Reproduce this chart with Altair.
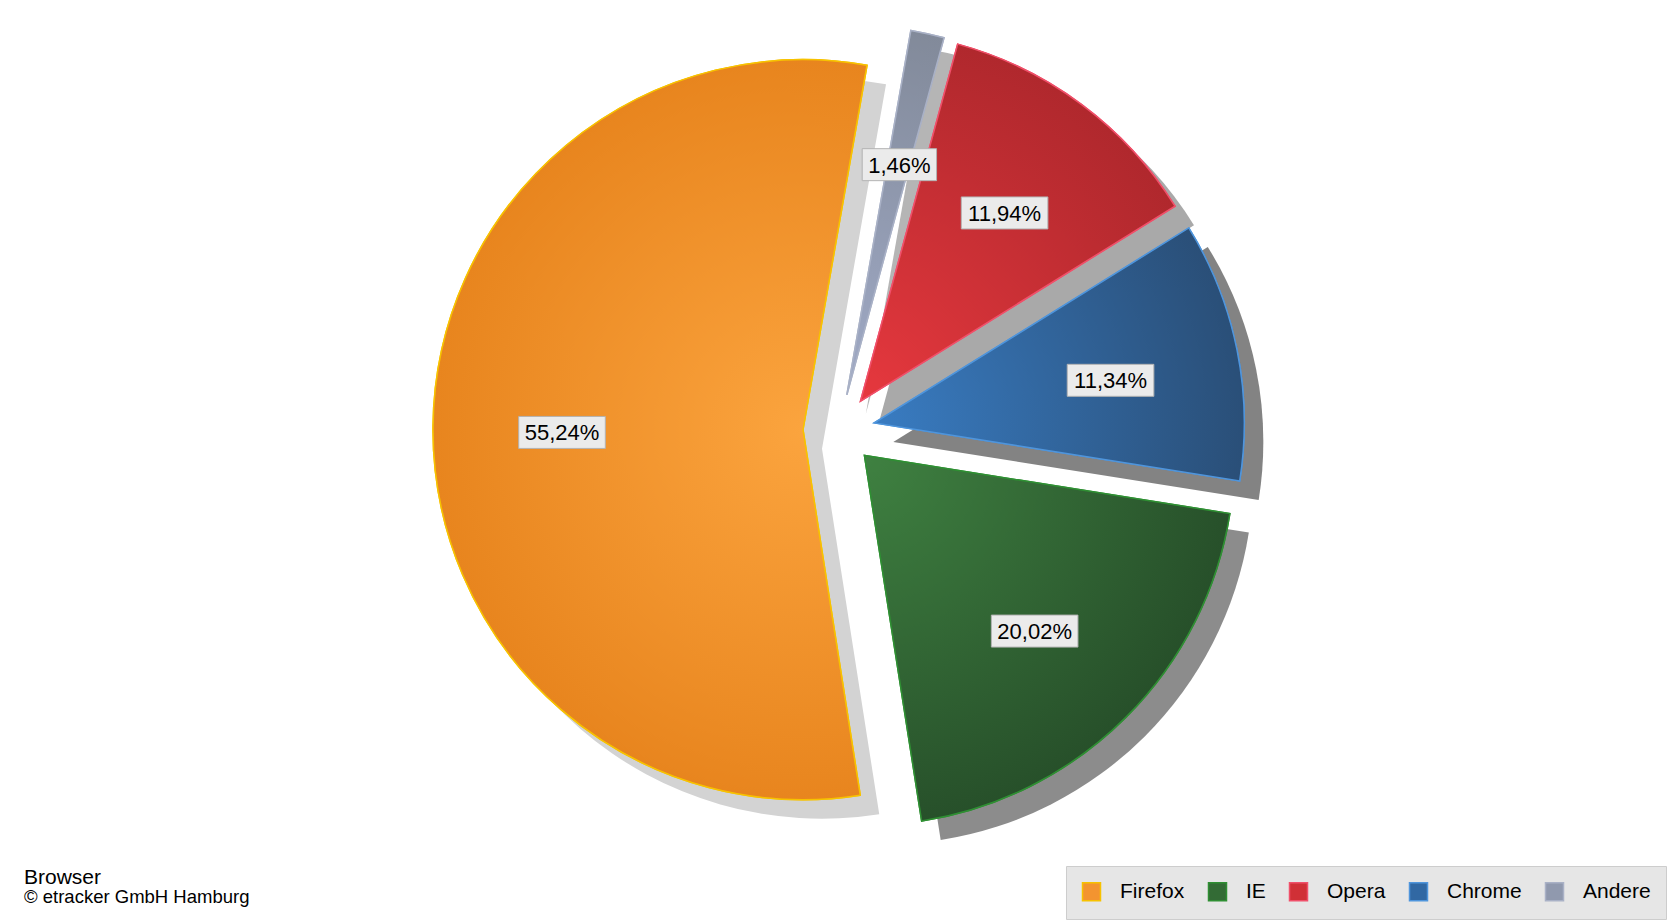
import math
import altair as alt
import pandas as pd

# Browser shares in percent (legend order)
browsers = ["Firefox", "IE", "Opera", "Chrome", "Andere"]
shares = [55.24, 20.02, 11.94, 11.34, 1.46]
# Clockwise order of the slices, starting with Firefox
pie_order = ["Firefox", "Andere", "Opera", "Chrome", "IE"]

title_text = "Browser"
source_text = "© etracker GmbH Hamburg"

# Colours per browser (same order as `browsers`)
flat_colors = ["#f39430", "#336b35", "#d03036", "#3168a3", "#9099ae"]
light_colors = ["#fba43e", "#3f8141", "#e6383e", "#397cc2", "#a0aac6"]
dark_colors = ["#e8851e", "#27502a", "#b0282d", "#2a4f78", "#828a9a"]
edge_colors = ["#f7c200", "#2f8f33", "#f0506a", "#4f95dc", "#a9b1c6"]
shadow_colors = ["#d3d3d3", "#8c8c8c", "#a9a9a9", "#838383", "#b5b5b5"]

FONT = "Liberation Sans"
W, H = 1680, 924
CX, CY = 839, 430          # pie centre before exploding
R = 370                    # outer radius
EXPLODE = 36               # distance every slice is pulled out
LABEL_R = 241              # distance of the value boxes from the slice tip
SHADOW = 19                # drop-shadow offset
START = math.radians(171.1)
TAU = 2 * math.pi

df = pd.DataFrame({"browser": browsers, "share": shares})
df["ord"] = df["browser"].map(pie_order.index)
df = df.sort_values("ord").reset_index(drop=True)
df["t1"] = df["share"].cumsum()
df["t0"] = df["t1"] - df["share"]
df["label"] = df["share"].map(lambda v: f"{v:.2f}".replace(".", ",") + "%")


def base():
    return alt.Chart(df).transform_calculate(
        mid=f"{START} + (datum.t0 + datum.t1) / 200 * 2 * PI",
        px=f"{CX} + {EXPLODE} * sin(datum.mid)",
        py=f"{CY} - {EXPLODE} * cos(datum.mid)",
        lx=f"datum.px + {LABEL_R} * sin(datum.mid)",
        ly=f"datum.py - {LABEL_R} * cos(datum.mid) + 5",
        bw="(length(datum.label) - 2) * 0.556 * 22 + 1.167 * 22 + 12",
        bx0="datum.lx - datum.bw / 2",
        bx1="datum.lx + datum.bw / 2",
        by0="datum.ly - 16",
        by1="datum.ly + 16",
    )


theta_enc = alt.Theta("t0:Q", scale=alt.Scale(domain=[0, 100], range=[START, START + TAU]), stack=False)
theta2_enc = alt.Theta2("t1:Q")
x_enc = alt.X("px:Q", scale=None, axis=None)
y_enc = alt.Y("py:Q", scale=None, axis=None)

legend = alt.Legend(
    orient="none", legendX=1066, legendY=866, direction="horizontal",
    symbolType="square", symbolSize=324, symbolStrokeWidth=1.5,
    labelFontSize=21, labelFont=FONT, labelColor="#000000", labelOffset=18,
    columnPadding=20, padding=15, title=None,
    fillColor="#e6e6e6", strokeColor="#cdcdcd",
)


def slice_gradient(i, name):
    """Radial gradient centred on the tip of the slice (SVG bbox units)."""
    row = df[df["browser"] == name].iloc[0]
    a = START + row["t0"] / 100 * TAU
    b = START + row["t1"] / 100 * TAU
    xs, ys = [0.0], [0.0]
    for k in range(361):
        th = a + (b - a) * k / 360
        xs.append(R * math.sin(th))
        ys.append(-R * math.cos(th))
    x0, x1, y0, y1 = min(xs), max(xs), min(ys), max(ys)
    s = max(x1 - x0, y1 - y0)
    ox = (x0 + x1) / 2 - s / 2
    oy = (y0 + y1) / 2 - s / 2
    fx, fy = -ox / s, -oy / s
    return alt.RadialGradient(
        gradient="radial",
        stops=[alt.GradientStop(offset=0, color=light_colors[i]),
               alt.GradientStop(offset=1, color=dark_colors[i])],
        x1=fx, y1=fy, r1=0, x2=fx, y2=fy, r2=R / s,
    )


shadow_layers = []
gradient_layers = []
for i, name in enumerate(browsers):
    one = base().transform_filter(alt.datum.browser == name)
    shadow_layers.append(
        one.mark_arc(outerRadius=R, xOffset=SHADOW, yOffset=SHADOW, fill=shadow_colors[i])
        .encode(theta=theta_enc, theta2=theta2_enc, x=x_enc, y=y_enc)
    )
    gradient_layers.append(
        one.mark_arc(outerRadius=R, fill=slice_gradient(i, name), stroke=edge_colors[i], strokeWidth=1.5)
        .encode(theta=theta_enc, theta2=theta2_enc, x=x_enc, y=y_enc)
    )

# Flat-coloured slices underneath the gradients; they carry the legend
flat = base().mark_arc(outerRadius=R, strokeWidth=1.5).encode(
    theta=theta_enc, theta2=theta2_enc, x=x_enc, y=y_enc,
    color=alt.Color("browser:N", scale=alt.Scale(domain=browsers, range=flat_colors), legend=legend),
    stroke=alt.Stroke("browser:N", scale=alt.Scale(domain=browsers, range=edge_colors), legend=legend),
)

boxes = base().mark_rect(fill="#ebebeb", stroke="#b3b3b3", strokeWidth=1).encode(
    x=alt.X("bx0:Q", scale=None, axis=None), x2="bx1:Q",
    y=alt.Y("by0:Q", scale=None, axis=None), y2="by1:Q",
)
labels = base().mark_text(font=FONT, fontSize=22, color="#000000", align="center",
                          baseline="alphabetic", dy=7.9).encode(
    x=alt.X("lx:Q", scale=None, axis=None),
    y=alt.Y("ly:Q", scale=None, axis=None),
    text="label:N",
)

title = alt.Chart(pd.DataFrame({"t": [title_text]})).mark_text(
    font=FONT, fontSize=21, align="left", baseline="alphabetic", color="#000000"
).encode(x=alt.value(24), y=alt.value(884), text="t:N")
source = alt.Chart(pd.DataFrame({"t": [source_text]})).mark_text(
    font=FONT, fontSize=18.5, align="left", baseline="alphabetic", color="#000000"
).encode(x=alt.value(24), y=alt.value(903), text="t:N")

chart = alt.layer(*shadow_layers, flat, *gradient_layers, boxes, labels, title, source).properties(
    width=W, height=H, padding=0,
    autosize=alt.AutoSizeParams(type="none"),
    background="#ffffff",
).configure_view(stroke=None)

chart.save("out.html", embed_options={"renderer": "svg", "actions": False})
